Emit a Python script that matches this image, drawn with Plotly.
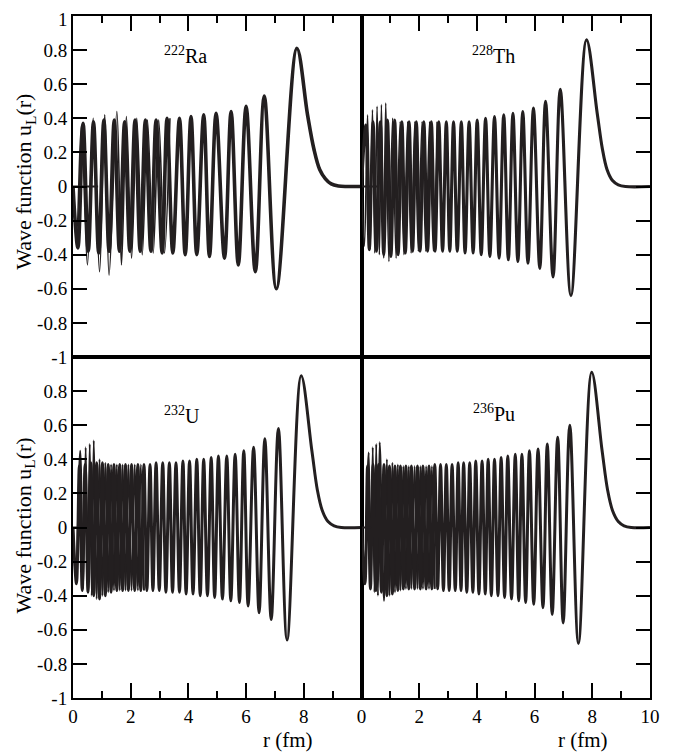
import plotly.graph_objects as go

# ---------------- data (extrema) ----------------
ra_r = [0.00, 0.17, 0.35, 0.53, 0.71, 0.89, 1.07, 1.25, 1.43, 1.61, 1.79, 1.97, 2.15, 2.33, 2.51, 2.70,
        2.88, 3.09, 3.26, 3.46, 3.69, 3.89, 4.09, 4.29, 4.53, 4.73, 4.96, 5.25, 5.48, 5.73, 6.00, 6.32,
        6.63, 7.05, 7.76, 8.13, 8.35, 8.55, 8.75, 8.95, 9.20, 9.50, 10.0]
ra_u = [0.00, -0.36, 0.37, -0.38, 0.38, -0.39, 0.39, -0.38, 0.39, -0.38, 0.38, -0.38, 0.39, -0.38, 0.39, -0.38,
        0.39, -0.39, 0.40, -0.39, 0.40, -0.40, 0.41, -0.40, 0.42, -0.41, 0.43, -0.42, 0.44, -0.46, 0.47, -0.50,
        0.53, -0.60, 0.81, 0.42, 0.22, 0.10, 0.045, 0.015, 0.003, 0.0, 0.0]
ra_thin_r = [0.00, 0.12, 0.29, 0.50, 0.70, 0.92, 1.10, 1.25, 1.52, 1.68, 1.85, 2.03, 2.21, 2.40, 2.58, 2.78,
             2.97, 3.17, 3.36]
ra_thin_u = [0.00, -0.30, 0.36, -0.46, 0.40, -0.50, 0.42, -0.52, 0.44, -0.46, 0.41, -0.42, 0.40, -0.40, 0.39,
             -0.39, 0.39, -0.39, 0.40]
ra_flat_r = [0.0, 0.87]
ra_flat_u = [0.0, 0.0]

th_r = [0.00, 0.15, 0.27, 0.40, 0.52, 0.65, 0.77, 0.90, 1.02, 1.15, 1.27, 1.40, 1.52, 1.65, 1.77, 1.90,
        2.03, 2.16, 2.29, 2.42, 2.55, 2.68, 2.81, 2.94, 3.06, 3.19, 3.32, 3.46, 3.59, 3.73, 3.87, 4.01,
        4.15, 4.30, 4.45, 4.61, 4.77, 4.93, 5.09, 5.25, 5.42, 5.59, 5.77, 5.96, 6.18, 6.38, 6.64, 6.89,
        7.26, 7.80, 8.17, 8.35, 8.51, 8.70, 8.90, 9.15, 10.0]
th_u = [0.00, 0.36, -0.37, 0.38, -0.38, 0.38, -0.40, 0.39, -0.41, 0.39, -0.40, 0.38, -0.39, 0.38, -0.38, 0.38,
        -0.38, 0.38, -0.38, 0.38, -0.38, 0.38, -0.38, 0.38, -0.38, 0.38, -0.38, 0.38, -0.39, 0.38, -0.39, 0.39,
        -0.40, 0.40, -0.41, 0.41, -0.42, 0.42, -0.43, 0.43, -0.44, 0.44, -0.45, 0.46, -0.48, 0.50, -0.53, 0.57,
        -0.64, 0.86, 0.43, 0.22, 0.10, 0.035, 0.01, 0.0, 0.0]
th_thin_r = [0.00, 0.10, 0.21, 0.30, 0.38, 0.46, 0.54, 0.62, 0.69, 0.77, 0.84, 0.95, 1.08, 1.20, 1.34, 1.47,
             1.60, 1.72, 1.85, 1.97, 2.10, 2.23, 2.36, 2.49, 2.62]
th_thin_u = [0.00, -0.35, 0.42, -0.37, 0.45, -0.39, 0.47, -0.40, 0.48, -0.42, 0.49, -0.44, 0.40, -0.42, 0.38,
             -0.40, 0.38, -0.39, 0.38, -0.38, 0.38, -0.38, 0.38, -0.38, 0.38]
th_flat_r = [0.0, 0.55]
th_flat_u = [0.0, 0.0]

u_r = [0.00, 0.12, 0.22, 0.32, 0.42, 0.52, 0.62, 0.72, 0.82, 0.92,
       1.02, 1.12, 1.22, 1.32, 1.42, 1.52, 1.62, 1.72, 1.82, 1.92,
       2.03, 2.14, 2.25, 2.35, 2.46, 2.56, 2.67, 2.77, 2.88, 2.99,
       3.11, 3.22, 3.34, 3.45, 3.57, 3.69, 3.81, 3.92, 4.04, 4.16,
       4.29, 4.41, 4.53, 4.66, 4.79, 4.91, 5.04, 5.18, 5.33, 5.47,
       5.62, 5.77, 5.92, 6.07, 6.26, 6.45, 6.65, 6.87, 7.12, 7.42,
       7.91, 8.28, 8.47, 8.64, 8.84, 9.05, 9.30, 10.0]
u_u = [0.00, -0.33, 0.36, -0.37, 0.37, -0.38, 0.38, -0.40, 0.38, -0.42,
       0.38, -0.40, 0.37, -0.38, 0.37, -0.37, 0.37, -0.37, 0.37, -0.37,
       0.37, -0.37, 0.37, -0.37, 0.37, -0.37, 0.37, -0.37, 0.38, -0.37,
       0.38, -0.38, 0.38, -0.38, 0.38, -0.38, 0.39, -0.39, 0.39, -0.39,
       0.40, -0.40, 0.40, -0.40, 0.41, -0.41, 0.42, -0.42, 0.42, -0.43,
       0.43, -0.44, 0.45, -0.46, 0.47, -0.50, 0.52, -0.54, 0.58, -0.66,
       0.89, 0.45, 0.22, 0.10, 0.035, 0.01, 0.0, 0.0]
u_thin_r = [0.00, 0.10, 0.25, 0.35, 0.44, 0.51, 0.58, 0.65, 0.72, 0.82, 0.92, 1.02, 1.12, 1.22, 1.32, 1.42,
            1.52, 1.62, 1.72, 1.82, 1.92, 2.03, 2.14, 2.25, 2.35, 2.46]
u_thin_u = [0.00, -0.30, 0.45, -0.36, 0.47, -0.38, 0.49, -0.40, 0.51, -0.42, 0.40, -0.40, 0.38, -0.38, 0.37,
            -0.37, 0.37, -0.37, 0.37, -0.37, 0.37, -0.37, 0.37, -0.37, 0.37, -0.37]
u_flat_r = [0.0, 0.45]
u_flat_u = [0.0, 0.0]

pu_r = [0.00, 0.12, 0.21, 0.31, 0.40, 0.50, 0.59, 0.69, 0.78, 0.88,
        0.97, 1.07, 1.16, 1.26, 1.35, 1.45, 1.54, 1.64, 1.73, 1.84,
        1.94, 2.04, 2.13, 2.24, 2.34, 2.44, 2.54, 2.64, 2.74, 2.84,
        2.94, 3.04, 3.14, 3.25, 3.35, 3.45, 3.54, 3.65, 3.75, 3.86,
        3.96, 4.07, 4.18, 4.29, 4.39, 4.50, 4.61, 4.73, 4.84, 4.96,
        5.07, 5.20, 5.33, 5.45, 5.56, 5.69, 5.82, 5.97, 6.12, 6.29,
        6.44, 6.61, 6.80, 6.99, 7.22, 7.52, 7.98,
        8.34, 8.53, 8.70, 8.90, 9.10, 9.35, 10.0]
pu_u = [0.00, -0.33, 0.36, -0.36, 0.37, -0.37, 0.37, -0.38, 0.37, -0.40,
        0.36, -0.39, 0.36, -0.37, 0.36, -0.36, 0.36, -0.36, 0.36, -0.36,
        0.36, -0.36, 0.36, -0.36, 0.36, -0.36, 0.37, -0.36, 0.37, -0.37,
        0.37, -0.37, 0.37, -0.37, 0.38, -0.37, 0.38, -0.38, 0.38, -0.38,
        0.39, -0.39, 0.39, -0.39, 0.40, -0.40, 0.40, -0.40, 0.41, -0.41,
        0.42, -0.42, 0.43, -0.43, 0.43, -0.44, 0.45, -0.45, 0.46, -0.47,
        0.49, -0.51, 0.53, -0.56, 0.60, -0.68, 0.91,
        0.45, 0.22, 0.10, 0.035, 0.01, 0.0, 0.0]
pu_thin_r = [0.00, 0.10, 0.25, 0.32, 0.39, 0.45, 0.51, 0.57, 0.63, 0.78, 0.88, 0.97, 1.07, 1.16, 1.26, 1.35,
             1.45, 1.54, 1.64, 1.73, 1.84, 1.94, 2.04, 2.13, 2.24, 2.34, 2.44, 2.54]
pu_thin_u = [0.00, -0.30, 0.44, -0.36, 0.47, -0.38, 0.49, -0.40, 0.50, -0.43, 0.40, -0.40, 0.38, -0.38, 0.37,
             -0.37, 0.36, -0.36, 0.36, -0.36, 0.36, -0.36, 0.36, -0.36, 0.36, -0.36, 0.36, -0.36]
pu_flat_r = [0.0, 0.33]
pu_flat_u = [0.0, 0.0]

nuclei = ["<sup>222</sup>Ra", "<sup>228</sup>Th", "<sup>232</sup>U", "<sup>236</sup>Pu"]
nucleus_pos = [(3.1, 0.77), (3.76, 0.77), (3.1, 0.66), (3.8, 0.67)]

y_vals_top = [-1, -0.8, -0.6, -0.4, -0.2, 0, 0.2, 0.4, 0.6, 0.8]
y_text_top = ["-1", "-0.8", "-0.6", "-0.4", "-0.2", "0", "0.2", "0.4", "0.6", "0.8"]
y_top_label = "1"
y_vals_bottom = [-1, -0.8, -0.6, -0.4, -0.2, 0, 0.2, 0.4, 0.6, 0.8]
y_text_bottom = ["-1", "-0.8", "-0.6", "-0.4", "-0.2", "0", "0.2", "0.4", "0.6", "0.8"]
x_vals_left = [0, 2, 4, 6, 8]
x_text_left = ["0", "2", "4", "6", "8"]
x_vals_right = [0, 2, 4, 6, 8, 10]
x_text_right = ["0", "2", "4", "6", "8", "10"]
x_minor = [1, 3, 5, 7, 9]

# ---------------- figure ----------------
INK = "#231f20"
FONT = "Liberation Serif"

panels = [
    (ra_r, ra_u, ra_thin_r, ra_thin_u, ra_flat_r, ra_flat_u, "x", "y", 3.6, 1.6),
    (th_r, th_u, th_thin_r, th_thin_u, th_flat_r, th_flat_u, "x2", "y2", 3.1, 1.6),
    (u_r, u_u, u_thin_r, u_thin_u, u_flat_r, u_flat_u, "x3", "y3", 3.0, 2.0),
    (pu_r, pu_u, pu_thin_r, pu_thin_u, pu_flat_r, pu_flat_u, "x4", "y4", 3.0, 2.0),
]

fig = go.Figure()
for (mr, mu, tr, tu, fr, fu, xa, ya, w, tw) in panels:
    fig.add_trace(go.Scatter(x=tr, y=tu, mode="lines", xaxis=xa, yaxis=ya,
                             line=dict(color=INK, width=tw, shape="spline", smoothing=1.0),
                             showlegend=False, hoverinfo="skip"))
    fig.add_trace(go.Scatter(x=mr, y=mu, mode="lines", xaxis=xa, yaxis=ya,
                             line=dict(color=INK, width=w, shape="spline", smoothing=1.0),
                             showlegend=False, hoverinfo="skip"))
    fig.add_trace(go.Scatter(x=fr, y=fu, mode="lines", xaxis=xa, yaxis=ya,
                             line=dict(color=INK, width=2),
                             showlegend=False, hoverinfo="skip"))

tickfont = dict(family=FONT, size=19, color="black")


def xax(domain, anchor, side, labels, vals, text):
    return dict(domain=domain, anchor=anchor, range=[0, 10], side=side, automargin=False,
                showline=True, linecolor="black", linewidth=2, mirror=True,
                ticks="inside", ticklen=15, tickwidth=2, tickcolor="black",
                tickmode="array", tickvals=vals, ticktext=text,
                showticklabels=labels, tickfont=tickfont, ticklabeloverflow="allow",
                minor=dict(ticks="inside", ticklen=7, tickwidth=2, tickcolor="black",
                           tickmode="array", tickvals=x_minor),
                showgrid=False, zeroline=False)


def yax(domain, anchor, side, labels, vals, text):
    return dict(domain=domain, anchor=anchor, range=[-1, 1], side=side, automargin=False,
                showline=True, linecolor="black", linewidth=2, mirror=True,
                ticks="inside", ticklen=14, tickwidth=2, tickcolor="black",
                tickmode="array", tickvals=vals, ticktext=text,
                showticklabels=labels, tickfont=tickfont, ticklabeloverflow="allow",
                showgrid=False, zeroline=False)


fig.update_layout(
    width=680, height=755,
    margin=dict(l=65, r=38, t=8, b=65, autoexpand=False),
    paper_bgcolor="white", plot_bgcolor="white",
    font=dict(family=FONT, color="black"),
    xaxis=xax([0, 0.5], "y", "top", False, x_vals_right, x_text_right),
    xaxis2=xax([0.5, 1], "y2", "top", False, x_vals_right, x_text_right),
    xaxis3=xax([0, 0.5], "y3", "bottom", True, x_vals_left, x_text_left),
    xaxis4=xax([0.5, 1], "y4", "bottom", True, x_vals_right, x_text_right),
    yaxis=yax([0.5, 1], "x", "left", True, y_vals_top, y_text_top),
    yaxis2=yax([0.5, 1], "x2", "right", False, y_vals_top, y_text_top),
    yaxis3=yax([0, 0.5], "x3", "left", True, y_vals_bottom, y_text_bottom),
    yaxis4=yax([0, 0.5], "x4", "right", False, y_vals_top, y_text_top),
)

annotations = []
for i, (txt, (ax_x, ax_y)) in enumerate(zip(nuclei, nucleus_pos)):
    sfx = "" if i == 0 else str(i + 1)
    annotations.append(dict(text=txt, x=ax_x, y=ax_y, xref="x" + sfx, yref="y" + sfx,
                            xanchor="left", yanchor="middle", showarrow=False,
                            font=dict(family=FONT, size=20, color="black")))
# top "1" label kept inside the page so it is not clipped
annotations.append(dict(text=y_top_label, x=0, y=1, xref="paper", yref="paper",
                        xanchor="right", yanchor="top", xshift=-4, yshift=8,
                        showarrow=False, borderpad=0,
                        font=dict(family=FONT, size=19, color="black")))
for yc in (0.757, 0.253):
    annotations.append(dict(text="Wave function u<sub>L</sub>(r)", x=-0.083, y=yc,
                            xref="paper", yref="paper", textangle=-90,
                            xanchor="center", yanchor="middle", showarrow=False,
                            font=dict(family=FONT, size=22, color="black")))
for xc in (0.3726, 0.884):
    annotations.append(dict(text="r (fm)", x=xc, y=-0.061, xref="paper", yref="paper",
                            xanchor="center", yanchor="middle", showarrow=False,
                            font=dict(family=FONT, size=21, color="black")))
fig.update_layout(annotations=annotations)

fig.write_html("out.html")
